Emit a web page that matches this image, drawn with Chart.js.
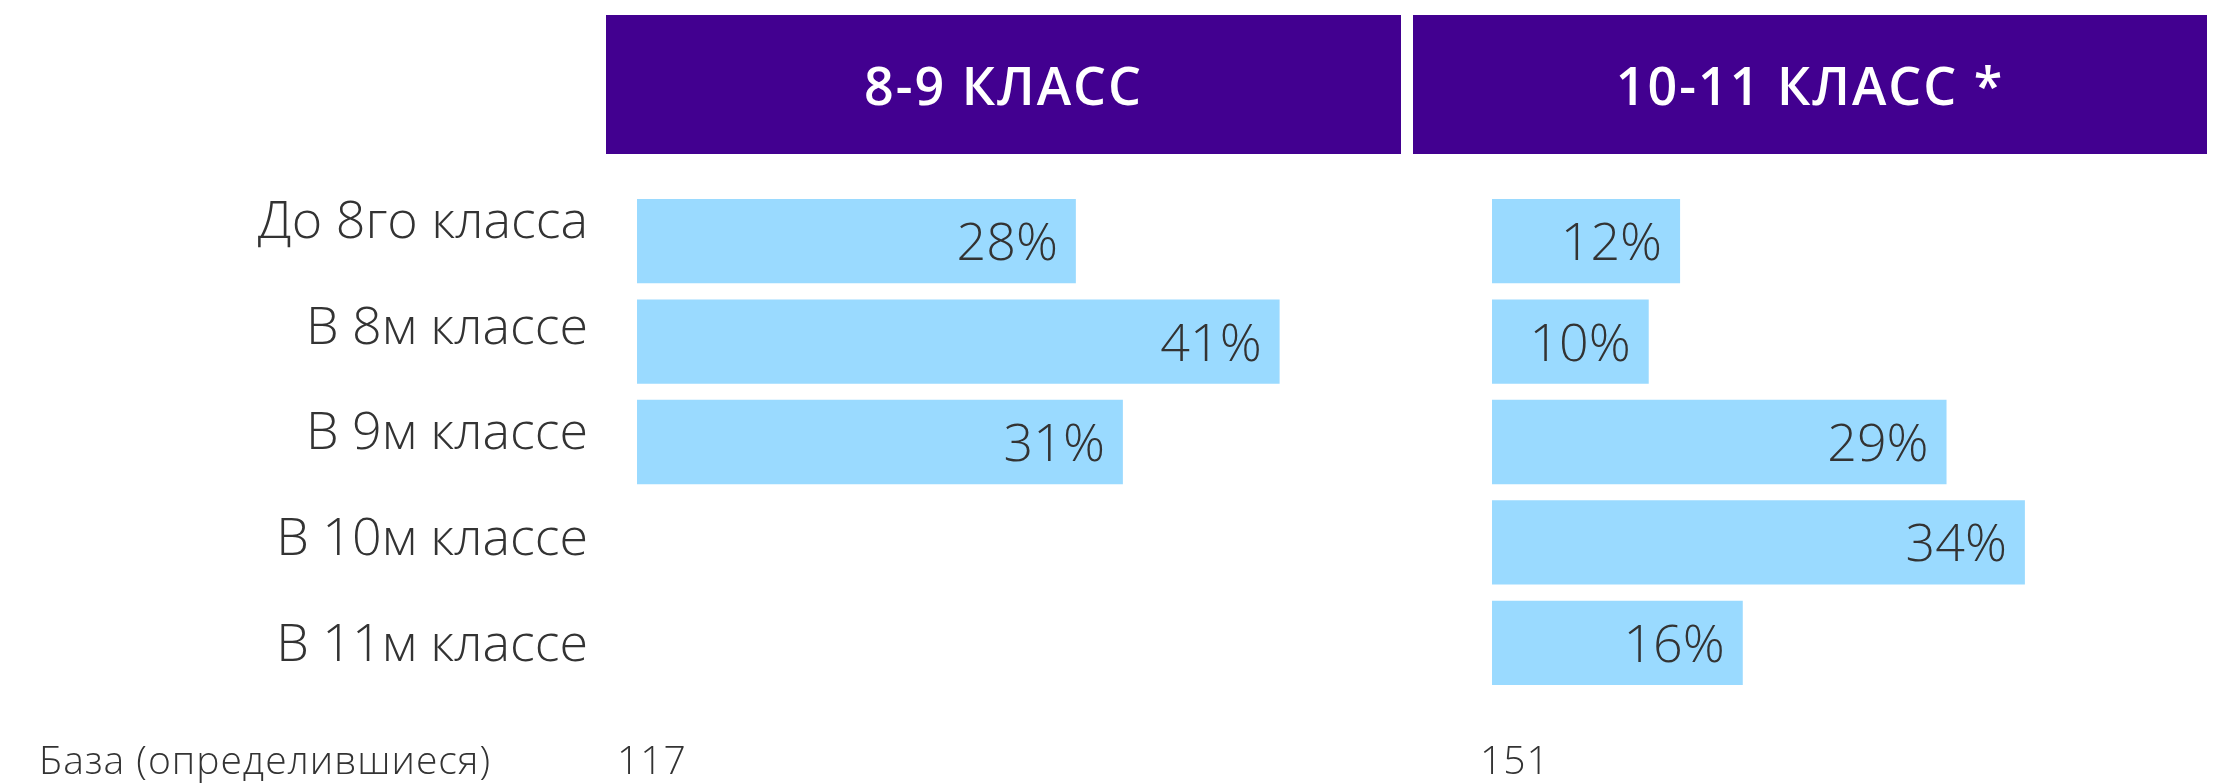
<!DOCTYPE html>
<html>
<head>
<meta charset="utf-8">
<script src="https://cdn.jsdelivr.net/npm/chart.js@4.4.1/dist/chart.umd.min.js"></script>
<style>
  html, body { margin: 0; padding: 0; background: #fff; }
  body { width: 2218px; height: 783px; position: relative; overflow: hidden; font-family: "Open Sans", "Noto Sans", sans-serif; }
  canvas { position: absolute; top: 0; }
  .head { position: absolute; top: 15px; height: 139px; background: #420090; color: #fff;
          display: flex; align-items: center; justify-content: center;
          font-weight: 600; font-size: 52px; letter-spacing: 2px; }
  .base { position: absolute; top: 739px; font-size: 39px; line-height: 39px; font-weight: 300; color: #333; white-space: nowrap; letter-spacing: 1px; }
</style>
</head>
<body>
<canvas id="leftChart" width="1405" height="783" style="left:0"></canvas>
<canvas id="rightChart" width="855" height="783" style="left:1405px"></canvas>
<div class="head" id="head1" style="left:606px; width:795px"></div>
<div class="head" id="head2" style="left:1413px; width:794px"></div>
<div class="base" id="baseLabel" style="left:39px"></div>
<div class="base" id="base1" style="left:617px"></div>
<div class="base" id="base2" style="left:1480px"></div>
<script>
const categories = ['До 8го класса', 'В 8м классе', 'В 9м классе', 'В 10м классе', 'В 11м классе'];
const groupTitles = ['8-9 КЛАСС', '10-11 КЛАСС *'];
const grade89 = [28, 41, 31, null, null];
const grade1011 = [12, 10, 29, 34, 16];
const baseTitle = 'База (определившиеся)';
const baseCounts = [117, 151];

document.getElementById('head1').textContent = groupTitles[0];
document.getElementById('head2').textContent = groupTitles[1];
document.getElementById('baseLabel').textContent = baseTitle;
document.getElementById('base1').textContent = baseCounts[0];
document.getElementById('base2').textContent = baseCounts[1];

const FONT = '"Open Sans", "Noto Sans", sans-serif';
const BAR_COLOR = '#9ADAFF';
const TEXT_COLOR = '#333333';

// percent labels inside the end of each bar
const valueLabels = {
    id: 'valueLabels',
    afterDatasetsDraw(chart) {
        const ctx = chart.ctx;
        const values = chart.data.datasets[0].data;
        ctx.save();
        ctx.font = '300 52px ' + FONT;
        ctx.fillStyle = TEXT_COLOR;
        ctx.textAlign = 'right';
        ctx.textBaseline = 'alphabetic';
        chart.getDatasetMeta(0).data.forEach((bar, i) => {
            if (values[i] == null) return;
            ctx.fillText(values[i] + '%', bar.x - 18, bar.y + 19);
        });
        ctx.restore();
    }
};

function barDataset(values) {
    return {
        data: values,
        backgroundColor: BAR_COLOR,
        borderWidth: 0,
        barPercentage: 0.84,
        categoryPercentage: 1.0
    };
}

const common = {
    indexAxis: 'y',
    responsive: false,
    animation: false,
    devicePixelRatio: 1,
    plugins: { legend: { display: false }, tooltip: { enabled: false } }
};

new Chart(document.getElementById('leftChart'), {
    type: 'bar',
    data: { labels: categories, datasets: [barDataset(grade89)] },
    options: {
        ...common,
        layout: { padding: { left: 0, right: 0, top: 191, bottom: 90 } },
        scales: {
            x: { display: false, min: 0, max: 49 },
            y: { display: false },
            // row captions sit on their own axis, slightly wider spaced than the bars
            yl: {
                type: 'linear',
                position: 'left',
                reverse: true,
                offset: false,
                bounds: 'data',
                min: -0.306,
                max: 4.448,
                grid: { display: false, drawTicks: true, tickLength: 49 },
                border: { display: false },
                ticks: {
                    padding: 0,
                    color: TEXT_COLOR,
                    font: { family: FONT, size: 52, weight: '300' },
                    callback: v => categories[v]
                },
                afterBuildTicks: s => { s.ticks = categories.map((c, i) => ({ value: i })); },
                afterFit: s => { s.width = 637; }
            }
        }
    },
    plugins: [valueLabels]
});

new Chart(document.getElementById('rightChart'), {
    type: 'bar',
    data: { labels: categories, datasets: [barDataset(grade1011)] },
    options: {
        ...common,
        layout: { padding: { left: 87, right: 0, top: 191, bottom: 90 } },
        scales: {
            x: { display: false, min: 0, max: 49 },
            y: { display: false }
        }
    },
    plugins: [valueLabels]
});
</script>
</body>
</html>
